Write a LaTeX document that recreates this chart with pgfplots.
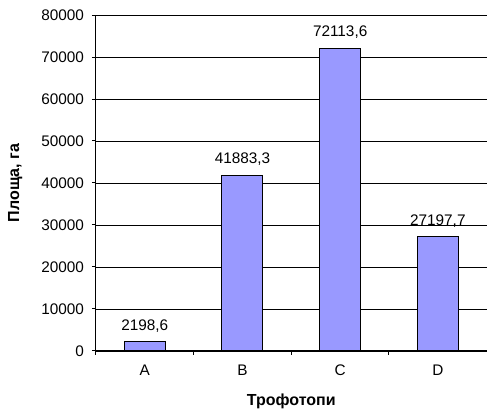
\documentclass[border=0pt]{standalone}
\usepackage{pgfplots}
\pgfplotsset{compat=1.18}
\usepackage{fontspec}
\setmainfont{Liberation Sans}
\definecolor{barblue}{HTML}{9999FF}
\begin{document}
\begin{tikzpicture}
\useasboundingbox (-72pt,-43.5pt) rectangle (293.25pt,263.25pt);
\begin{axis}[
  at={(0,0)}, anchor=south west,
  scale only axis,
  width=293pt, height=252pt,
  xmin=-0.5, xmax=3.5,
  ymin=0, ymax=80000,
  ytick={0,10000,...,80000},
  scaled y ticks=false,
  xtick={0,1,2,3},
  xticklabels={A,B,C,D},
  minor xtick={-0.5,0.5,1.5,2.5},
  major x tick style={draw=none},
  minor tick length=3pt,
  major tick length=3pt,
  tick align=outside,
  tick style={black, line width=0.75pt},
  axis x line*=bottom,
  axis y line*=left,
  axis line style={black, line width=0.75pt, -},
  ymajorgrids,
  major grid style={black, line width=0.7pt},
  /pgf/number format/1000 sep={},
  /pgf/number format/assume math mode=true,
  tick label style={font=\fontsize{11.5}{13}\selectfont},
  xticklabel style={yshift=-4pt},
  yticklabel style={xshift=-2.5pt},
  ylabel={\textbf{Площа, га}},
  xlabel={\textbf{Трофотопи}},
  label style={font=\fontsize{12}{14}\selectfont},
  ylabel style={at={(axis description cs:-0.207,0.5)}, anchor=center, rotate=0},
  xlabel style={at={(axis description cs:0.5,-0.149)}, anchor=center},
  clip=false,
  point meta=explicit symbolic,
  nodes near coords,
  nodes near coords style={font=\fontsize{11.5}{13}\selectfont, anchor=south, yshift=3.5pt},
]
\addplot[ybar, bar width=30.75pt, fill=barblue, draw=black, line width=0.75pt]
  table[meta=label] {
x y label
0 2198.6 2198,6
1 41883.3 41883,3
2 72113.6 72113,6
3 27197.7 27197,7
};
\end{axis}
\end{tikzpicture}
\end{document}
